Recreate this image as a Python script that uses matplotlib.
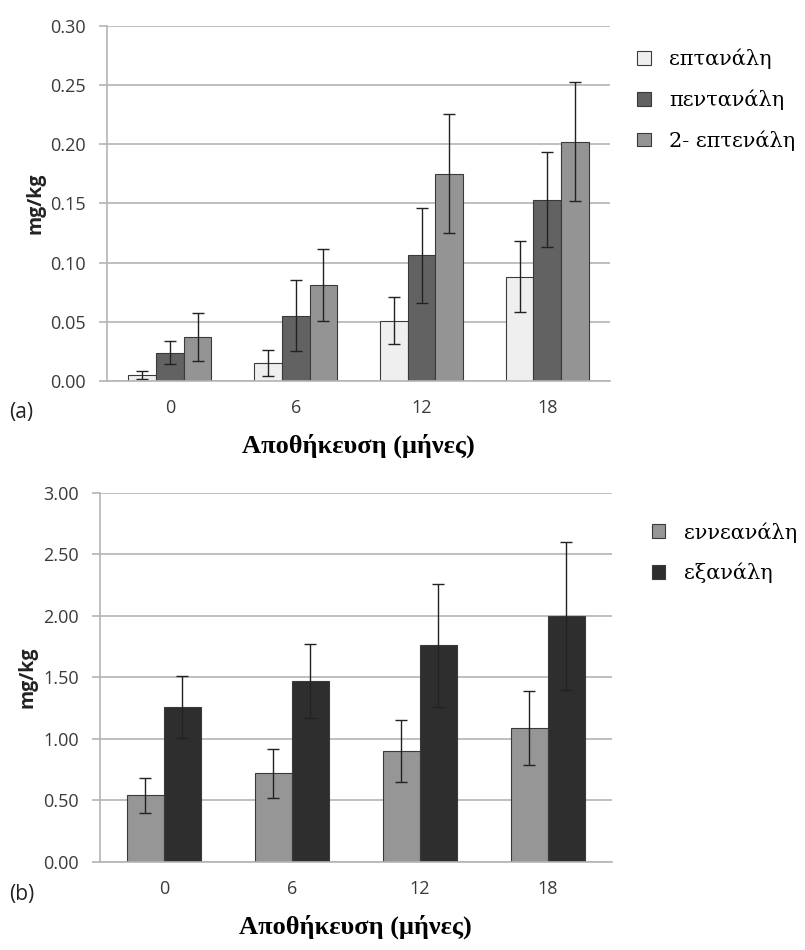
import matplotlib.pyplot as plt
import numpy as np

months = ["0", "6", "12", "18"]

# panel (a)
a_names = ["επτανάλη", "πεντανάλη", "2- επτενάλη"]
heptanal = [0.005, 0.015, 0.051, 0.088]
heptanal_err = [0.003, 0.011, 0.020, 0.030]
pentanal = [0.024, 0.055, 0.106, 0.153]
pentanal_err = [0.010, 0.030, 0.040, 0.040]
heptenal = [0.037, 0.081, 0.175, 0.202]
heptenal_err = [0.020, 0.030, 0.050, 0.050]
a_colors = ["#efefef", "#626262", "#949494"]

# panel (b)
b_names = ["εννεανάλη", "εξανάλη"]
nonanal = [0.54, 0.72, 0.90, 1.09]
nonanal_err = [0.14, 0.20, 0.25, 0.30]
hexanal = [1.26, 1.47, 1.76, 2.00]
hexanal_err = [0.25, 0.30, 0.50, 0.60]
b_colors = ["#969696", "#2e2e2e"]

tick_font = "Open Sans"
serif = "Liberation Serif"
leg_font = "DejaVu Serif"
grid_c = "#b4b4b4"

fig = plt.figure(figsize=(8.05, 9.5), dpi=100)
ax1 = fig.add_axes([0.133, 0.599, 0.625, 0.374])
ax2 = fig.add_axes([0.124, 0.093, 0.636, 0.388])


def style(ax, ymax, step, fmt):
    ax.set_xlim(-0.5, 3.5)
    ax.set_ylim(0, ymax)
    ticks = np.arange(0, ymax + step / 2, step)
    ax.set_yticks(ticks)
    ax.set_yticklabels([fmt % v for v in ticks],
                       family=tick_font, fontsize=13, color="#3a3a3a")
    ax.set_xticks(range(len(months)))
    ax.set_xticklabels(months, family=tick_font, fontsize=13, color="#3a3a3a")
    ax.tick_params(axis="x", length=0, pad=13)
    ax.tick_params(axis="y", length=6, color=grid_c, width=1.2, pad=9)
    ax.yaxis.grid(True, color=grid_c, linewidth=1.2)
    ax.set_axisbelow(True)
    for s in ["top", "right"]:
        ax.spines[s].set_visible(False)
    for s in ["left", "bottom"]:
        ax.spines[s].set_color(grid_c)
        ax.spines[s].set_linewidth(1.2)
    ax.set_ylabel("mg/kg", family=tick_font, fontweight="bold", fontsize=14,
                  labelpad=4, color="#222222")
    ax.set_xlabel("Αποθήκευση (μήνες)", family=serif, fontweight="bold",
                  fontsize=19, labelpad=12)


def legend(ax, anchor):
    leg = ax.legend(loc="upper left", bbox_to_anchor=anchor, frameon=False,
                    fontsize=15, handlelength=0.65, handleheight=0.65,
                    handletextpad=0.9, labelspacing=0.97, borderaxespad=0)
    for t in leg.get_texts():
        t.set_family(leg_font)
    return leg


x = np.arange(len(months))
err_kw = dict(ecolor="#222222", elinewidth=1.0, capsize=4, capthick=1.0)

w = 0.22
for i, (vals, errs) in enumerate([(heptanal, heptanal_err), (pentanal, pentanal_err),
                                  (heptenal, heptenal_err)]):
    ax1.bar(x + (i - 1) * w, vals, w, yerr=errs, color=a_colors[i],
            edgecolor="#3a3a3a", linewidth=0.8, label=a_names[i], error_kw=err_kw)
style(ax1, 0.30, 0.05, "%.2f")
legend(ax1, (1.037, 0.958))

w = 0.29
for i, (vals, errs) in enumerate([(nonanal, nonanal_err), (hexanal, hexanal_err)]):
    ax2.bar(x + (i - 0.5) * w, vals, w, yerr=errs, color=b_colors[i],
            edgecolor="#3a3a3a", linewidth=0.8, label=b_names[i], error_kw=err_kw)
style(ax2, 3.0, 0.5, "%.2f")
legend(ax2, (1.062, 0.944))

fig.text(0.011, 0.560, "(a)", family=tick_font, fontsize=15, color="#222222")
fig.text(0.011, 0.053, "(b)", family=tick_font, fontsize=15, color="#222222")

fig.savefig("out.png", dpi=100, facecolor="white")
